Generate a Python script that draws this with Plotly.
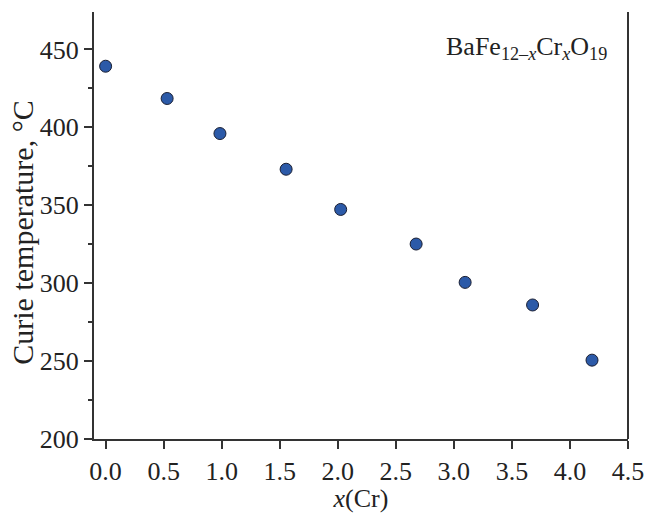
import plotly.graph_objects as go

x_cr = [0.0, 0.53, 0.985, 1.555, 2.025, 2.675, 3.097, 3.678, 4.19]
curie_t = [439.2, 418.5, 396.0, 373.1, 347.3, 325.1, 300.5, 286.0, 250.6]

x_ticks = [0.0, 0.5, 1.0, 1.5, 2.0, 2.5, 3.0, 3.5, 4.0, 4.5]
x_tick_labels = ["0.0", "0.5", "1.0", "1.5", "2.0", "2.5", "3.0", "3.5", "4.0", "4.5"]
y_ticks = [200, 250, 300, 350, 400, 450]

font = "Liberation Serif"
axis_col = "#333333"

fig = go.Figure()
fig.add_trace(go.Scatter(
    x=x_cr, y=curie_t, mode="markers",
    marker=dict(size=12, color="#2c5aa8", line=dict(color="#1a1f33", width=1)),
    showlegend=False,
))

fig.update_layout(
    width=649, height=513,
    margin=dict(l=94, r=21, t=12, b=74),
    paper_bgcolor="white", plot_bgcolor="white",
    font=dict(family=font, size=26, color="#222222"),
    xaxis=dict(
        range=[-0.1, 4.5], tickvals=x_ticks, ticktext=x_tick_labels,
        showline=True, linecolor=axis_col, linewidth=2,
        ticks="outside", ticklen=8, tickwidth=2, tickcolor=axis_col,
        showgrid=False, zeroline=False, automargin=False,
        title=dict(text="<i>x</i>(Cr)", font=dict(size=26), standoff=5),
    ),
    yaxis=dict(
        range=[200, 474], tickvals=y_ticks,
        showline=True, linecolor=axis_col, linewidth=2,
        ticks="outside", ticklen=8, tickwidth=2, tickcolor=axis_col,
        minor=dict(dtick=25, tick0=200, ticks="outside", ticklen=4, tickwidth=2, tickcolor=axis_col, showgrid=False),
        showgrid=False, zeroline=False, automargin=False,
    ),
    shapes=[dict(type="line", xref="paper", yref="paper", x0=1, x1=1, y0=0, y1=1,
                 line=dict(color=axis_col, width=2))],
    annotations=[
        dict(
            xref="paper", yref="paper", x=0.965, y=0.915, xanchor="right", yanchor="middle",
            text="BaFe<sub>12–<i>x</i></sub>Cr<sub><i>x</i></sub>O<sub>19</sub>",
            showarrow=False, font=dict(family=font, size=26, color="#222222"),
        ),
        dict(
            xref="paper", yref="paper", x=-0.133, y=0.483, xanchor="center", yanchor="middle",
            text="Curie temperature, °C", textangle=-90,
            showarrow=False, font=dict(family=font, size=30, color="#222222"),
        ),
    ],
)

fig.write_html(
    "out.html",
    config={"displayModeBar": False},
    post_script="document.body.style.margin='0';document.body.style.overflow='hidden';",
)
